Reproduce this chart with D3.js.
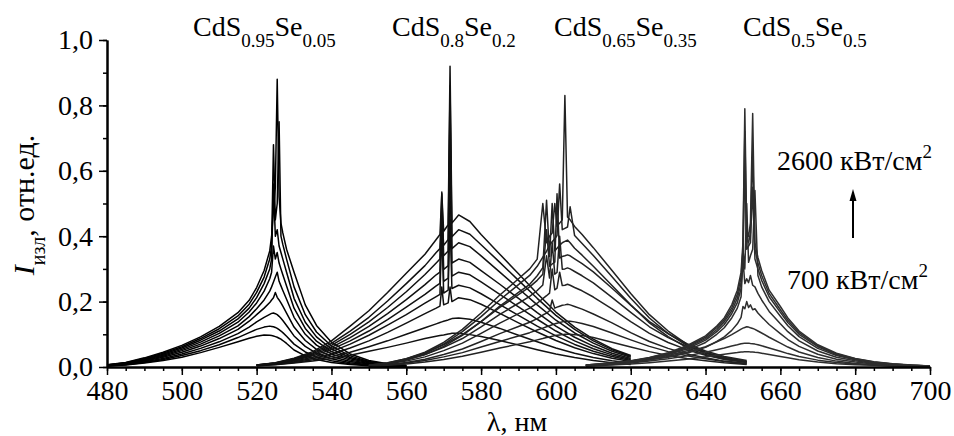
<!DOCTYPE html>
<html>
<head>
<meta charset="utf-8">
<script src="https://cdn.jsdelivr.net/npm/d3@7"></script>
<style>
  body { margin: 0; background: #fff; }
  text, tspan { font-family: "Liberation Serif" !important; }
</style>
</head>
<body>
<svg id="chart" width="954" height="436" font-family="Liberation Serif"></svg>
<script>
// wavelength grids (nm) and intensity curves, 700 -> 2600 kW/cm^2
const wl1 = [480, 485, 490, 495, 500, 505, 510, 515, 518, 520, 522, 523.5, 524, 524.5, 525, 525.5, 526, 526.5, 527, 528, 530, 533, 536, 540, 545, 550, 555, 560];
const g1 = [
  [0.003,0.006,0.012,0.02,0.03,0.044,0.06,0.077,0.088,0.094,0.098,0.097,0.096,0.095,0.093,0.091,0.088,0.085,0.081,0.072,0.052,0.034,0.023,0.014,0.008,0.004,0.002,0.001],
  [0.003,0.007,0.014,0.023,0.035,0.05,0.068,0.09,0.105,0.115,0.122,0.125,0.124,0.123,0.121,0.118,0.114,0.11,0.105,0.094,0.07,0.046,0.031,0.019,0.01,0.005,0.003,0.001],
  [0.004,0.008,0.016,0.026,0.04,0.057,0.077,0.102,0.122,0.138,0.152,0.161,0.164,0.165,0.163,0.16,0.155,0.149,0.142,0.127,0.095,0.063,0.042,0.025,0.013,0.007,0.004,0.002],
  [0.004,0.009,0.018,0.03,0.045,0.064,0.087,0.115,0.14,0.16,0.18,0.197,0.205,0.212,0.228,0.213,0.205,0.196,0.186,0.165,0.122,0.081,0.054,0.032,0.017,0.009,0.005,0.002],
  [0.005,0.01,0.02,0.033,0.05,0.07,0.095,0.126,0.154,0.178,0.205,0.232,0.245,0.26,0.275,0.29,0.262,0.248,0.234,0.207,0.152,0.1,0.067,0.04,0.021,0.011,0.006,0.003],
  [0.005,0.011,0.022,0.036,0.054,0.076,0.103,0.137,0.168,0.196,0.232,0.27,0.29,0.37,0.33,0.35,0.318,0.3,0.282,0.248,0.18,0.118,0.079,0.047,0.025,0.013,0.007,0.003],
  [0.006,0.012,0.024,0.039,0.058,0.082,0.11,0.147,0.18,0.212,0.255,0.3,0.33,0.56,0.4,0.42,0.37,0.35,0.33,0.29,0.21,0.137,0.092,0.055,0.029,0.015,0.008,0.004],
  [0.006,0.013,0.026,0.042,0.062,0.087,0.117,0.156,0.192,0.228,0.275,0.33,0.37,0.68,0.45,0.5,0.75,0.4,0.375,0.33,0.245,0.16,0.107,0.064,0.034,0.017,0.009,0.004],
  [0.007,0.014,0.028,0.045,0.066,0.092,0.124,0.166,0.204,0.243,0.295,0.355,0.4,0.48,0.55,0.88,0.52,0.44,0.41,0.36,0.29,0.19,0.127,0.076,0.04,0.02,0.01,0.005]
];

const wl2 = [520, 525, 530, 535, 540, 545, 550, 555, 560, 565, 568, 569, 569.5, 570, 571.2, 571.7, 572.2, 574, 577, 580, 585, 590, 595, 600, 605, 610, 615, 620];
const g2 = [
  [0.004,0.007,0.012,0.018,0.026,0.036,0.048,0.06,0.073,0.087,0.094,0.096,0.097,0.098,0.101,0.102,0.103,0.103,0.099,0.093,0.081,0.067,0.053,0.04,0.029,0.02,0.013,0.008],
  [0.004,0.008,0.014,0.022,0.032,0.045,0.062,0.08,0.1,0.12,0.132,0.136,0.138,0.14,0.144,0.146,0.148,0.15,0.146,0.137,0.118,0.097,0.077,0.058,0.042,0.029,0.019,0.012],
  [0.005,0.009,0.016,0.026,0.04,0.058,0.08,0.106,0.134,0.163,0.18,0.186,0.245,0.19,0.196,0.245,0.2,0.212,0.206,0.192,0.164,0.135,0.107,0.081,0.059,0.041,0.027,0.017],
  [0.005,0.01,0.018,0.03,0.047,0.07,0.097,0.128,0.16,0.195,0.215,0.222,0.42,0.226,0.235,0.45,0.24,0.25,0.242,0.224,0.191,0.158,0.125,0.095,0.069,0.048,0.032,0.02],
  [0.005,0.011,0.02,0.034,0.054,0.08,0.11,0.145,0.183,0.222,0.248,0.256,0.47,0.262,0.272,0.6,0.278,0.29,0.282,0.26,0.222,0.184,0.146,0.11,0.08,0.056,0.037,0.023],
  [0.005,0.011,0.022,0.037,0.06,0.09,0.124,0.163,0.206,0.252,0.282,0.29,0.5,0.298,0.31,0.72,0.318,0.33,0.32,0.295,0.253,0.21,0.166,0.125,0.091,0.064,0.042,0.026],
  [0.006,0.012,0.024,0.04,0.066,0.1,0.138,0.182,0.23,0.283,0.318,0.33,0.535,0.34,0.355,0.8,0.362,0.38,0.368,0.34,0.29,0.24,0.19,0.143,0.104,0.073,0.048,0.03],
  [0.006,0.012,0.025,0.043,0.072,0.11,0.152,0.202,0.255,0.31,0.35,0.362,0.47,0.372,0.39,0.86,0.398,0.42,0.406,0.374,0.32,0.265,0.21,0.158,0.115,0.08,0.053,0.033],
  [0.006,0.013,0.027,0.047,0.08,0.125,0.172,0.228,0.287,0.345,0.39,0.405,0.53,0.415,0.435,0.92,0.44,0.465,0.445,0.405,0.345,0.285,0.225,0.168,0.122,0.085,0.056,0.035]
];

const wl3 = [550, 555, 560, 565, 570, 575, 580, 585, 590, 593, 595, 596.5, 597.5, 598.3, 599, 599.7, 600.3, 601, 601.7, 602.4, 603.1, 603.8, 605, 607, 610, 615, 620, 625, 630, 635, 640, 645, 651];
const g3 = [
  [0.002,0.005,0.009,0.015,0.023,0.033,0.045,0.058,0.07,0.077,0.083,0.087,0.09,0.092,0.094,0.096,0.097,0.098,0.099,0.1,0.1,0.1,0.099,0.096,0.09,0.076,0.061,0.047,0.035,0.026,0.019,0.013,0.008],
  [0.003,0.006,0.012,0.02,0.031,0.044,0.061,0.078,0.095,0.105,0.113,0.119,0.123,0.126,0.129,0.132,0.134,0.136,0.138,0.14,0.14,0.14,0.138,0.133,0.124,0.104,0.083,0.063,0.047,0.034,0.025,0.017,0.01],
  [0.003,0.007,0.014,0.024,0.038,0.055,0.078,0.102,0.124,0.137,0.148,0.159,0.165,0.172,0.205,0.18,0.183,0.186,0.189,0.19,0.192,0.19,0.185,0.177,0.162,0.135,0.105,0.078,0.057,0.04,0.028,0.018,0.011],
  [0.004,0.01,0.018,0.031,0.05,0.073,0.103,0.134,0.163,0.18,0.195,0.209,0.218,0.226,0.3,0.236,0.241,0.29,0.249,0.25,0.253,0.25,0.243,0.233,0.214,0.178,0.139,0.103,0.075,0.053,0.036,0.024,0.015],
  [0.005,0.011,0.022,0.038,0.06,0.087,0.123,0.161,0.195,0.216,0.234,0.251,0.34,0.272,0.38,0.284,0.289,0.4,0.299,0.3,0.303,0.3,0.292,0.279,0.257,0.213,0.167,0.123,0.09,0.063,0.044,0.029,0.017],
  [0.005,0.013,0.025,0.043,0.068,0.099,0.139,0.182,0.221,0.245,0.265,0.284,0.42,0.308,0.315,0.321,0.53,0.333,0.338,0.34,0.343,0.34,0.331,0.316,0.291,0.241,0.189,0.139,0.102,0.071,0.049,0.032,0.02],
  [0.004,0.01,0.021,0.038,0.063,0.097,0.139,0.186,0.228,0.253,0.279,0.304,0.51,0.338,0.5,0.355,0.363,0.372,0.38,0.384,0.388,0.38,0.363,0.342,0.308,0.249,0.19,0.135,0.093,0.059,0.038,0.024,0.014],
  [0.004,0.011,0.024,0.042,0.07,0.108,0.154,0.205,0.252,0.28,0.308,0.336,0.354,0.373,0.383,0.392,0.402,0.56,0.42,0.424,0.428,0.49,0.402,0.378,0.341,0.276,0.21,0.15,0.102,0.066,0.042,0.026,0.015],
  [0.005,0.012,0.025,0.045,0.075,0.115,0.165,0.22,0.27,0.3,0.33,0.5,0.38,0.4,0.41,0.5,0.43,0.44,0.45,0.83,0.459,0.45,0.43,0.405,0.365,0.295,0.225,0.16,0.11,0.07,0.045,0.028,0.016]
];

const wl4 = [608, 615, 620, 625, 630, 635, 640, 643, 645, 647, 648.5, 649.5, 650, 650.5, 651, 651.5, 652, 652.6, 653.2, 654, 655, 657, 660, 662, 665, 670, 675, 680, 685, 690, 695, 700];
const g4 = [
  [0.003,0.006,0.009,0.013,0.018,0.024,0.031,0.036,0.039,0.042,0.044,0.046,0.046,0.047,0.047,0.047,0.046,0.046,0.045,0.044,0.042,0.038,0.032,0.028,0.022,0.015,0.01,0.007,0.005,0.003,0.002,0.001],
  [0.004,0.008,0.012,0.018,0.025,0.034,0.045,0.053,0.058,0.064,0.068,0.071,0.072,0.073,0.073,0.073,0.072,0.071,0.07,0.068,0.065,0.058,0.048,0.041,0.032,0.021,0.014,0.009,0.006,0.004,0.003,0.002],
  [0.004,0.009,0.014,0.022,0.032,0.045,0.062,0.077,0.087,0.099,0.109,0.116,0.119,0.121,0.123,0.122,0.12,0.118,0.115,0.11,0.104,0.091,0.073,0.061,0.046,0.029,0.018,0.011,0.007,0.005,0.003,0.002],
  [0.005,0.009,0.014,0.022,0.03,0.042,0.06,0.078,0.092,0.112,0.132,0.152,0.185,0.178,0.2,0.182,0.19,0.175,0.178,0.165,0.153,0.13,0.102,0.084,0.063,0.039,0.024,0.015,0.009,0.006,0.004,0.002],
  [0.005,0.01,0.016,0.024,0.035,0.05,0.075,0.1,0.12,0.15,0.18,0.215,0.33,0.255,0.27,0.258,0.28,0.25,0.245,0.225,0.205,0.17,0.132,0.108,0.08,0.049,0.03,0.019,0.011,0.007,0.004,0.002],
  [0.005,0.011,0.017,0.026,0.038,0.055,0.082,0.108,0.13,0.163,0.197,0.24,0.36,0.3,0.5,0.32,0.34,0.36,0.54,0.28,0.245,0.2,0.155,0.126,0.093,0.057,0.035,0.022,0.013,0.008,0.005,0.002],
  [0.006,0.011,0.018,0.027,0.04,0.059,0.087,0.114,0.138,0.172,0.21,0.258,0.33,0.63,0.36,0.37,0.38,0.55,0.33,0.3,0.265,0.215,0.167,0.136,0.1,0.062,0.038,0.024,0.014,0.009,0.005,0.003],
  [0.006,0.012,0.018,0.028,0.042,0.062,0.091,0.12,0.144,0.181,0.222,0.275,0.36,0.72,0.39,0.38,0.41,0.66,0.36,0.318,0.28,0.225,0.175,0.143,0.105,0.065,0.04,0.025,0.015,0.009,0.005,0.003],
  [0.006,0.012,0.019,0.029,0.044,0.065,0.095,0.125,0.15,0.19,0.235,0.29,0.38,0.79,0.42,0.4,0.44,0.775,0.38,0.335,0.295,0.235,0.185,0.15,0.11,0.068,0.042,0.026,0.016,0.01,0.006,0.003]
];

const compS = ["0.95", "0.8", "0.65", "0.5"];
const compSe = ["0.05", "0.2", "0.35", "0.5"];
const xTicks = [480, 500, 520, 540, 560, 580, 600, 620, 640, 660, 680, 700];
const yTicks = [0, 0.2, 0.4, 0.6, 0.8, 1.0];
const powerLabels = ["2600 кВт/см", "700 кВт/см"];

const groups = [
  { wl: wl1, curves: g1 },
  { wl: wl2, curves: g2 },
  { wl: wl3, curves: g3 },
  { wl: wl4, curves: g4 }
];
const groupColors = ["#000", "#111", "#222", "#2e2e2e"];
const titleX = [193, 392, 554, 743];
const FONT = "Liberation Serif";

const svg = d3.select("#chart");

const x = d3.scaleLinear().domain([480, 700]).range([107, 930]);
const y = d3.scaleLinear().domain([0, 1]).range([367, 40]);

// curves
groups.forEach((grp, gi) => {
    const line = d3.line()
        .x((d, i) => x(grp.wl[i]))
        .y(d => y(d));
    svg.append("g")
        .selectAll("path")
        .data(grp.curves)
        .join("path")
        .attr("fill", "none")
        .attr("stroke", groupColors[gi])
        .attr("stroke-width", 1.5)
        .attr("stroke-linejoin", "round")
        .attr("d", line);
});

const fmt = d => d3.format(".1f")(d).replace(".", ",");

// axes: minor ticks first, then major with labels
svg.append("g")
    .attr("transform", "translate(0,367)")
    .call(d3.axisBottom(x).tickValues(d3.range(480, 701, 5)).tickSize(4).tickSizeOuter(0).tickFormat(""));
svg.append("g")
    .attr("transform", "translate(0,367)")
    .call(d3.axisBottom(x).tickValues(xTicks).tickSize(8).tickPadding(5).tickSizeOuter(0).tickFormat(d3.format("d")));

svg.append("g")
    .attr("transform", "translate(107,0)")
    .call(d3.axisLeft(y).tickValues(d3.range(0, 1.05, 0.1)).tickSize(4).tickSizeOuter(0).tickFormat(""));
svg.append("g")
    .attr("transform", "translate(107,0)")
    .call(d3.axisLeft(y).tickValues(yTicks).tickSize(8).tickPadding(6).tickSizeOuter(0).tickFormat(fmt));

svg.selectAll("g").attr("font-family", FONT).attr("font-size", 28);
svg.selectAll(".domain").attr("stroke", "#000").attr("stroke-width", 2);
svg.selectAll(".tick line").attr("stroke", "#000").attr("stroke-width", 1.5);
svg.selectAll(".tick text")
    .attr("font-family", FONT)
    .attr("font-size", 28)
    .attr("fill", "#000");

// composition titles
compS.forEach((s, i) => {
    const t = svg.append("text")
        .attr("x", titleX[i])
        .attr("y", 36)
        .attr("font-family", FONT)
        .attr("font-size", 28);
    t.append("tspan").text("CdS");
    t.append("tspan").attr("dy", 11).attr("font-size", 19).text(s);
    t.append("tspan").attr("dy", -11).text("Se");
    t.append("tspan").attr("dy", 11).attr("font-size", 19).text(compSe[i]);
});

// y axis title
const yt = svg.append("text")
    .attr("transform", "translate(34,205) rotate(-90)")
    .attr("text-anchor", "middle")
    .attr("font-family", FONT)
    .attr("font-size", 30);
yt.append("tspan").attr("font-style", "italic").text("I");
yt.append("tspan").attr("dy", 11).attr("font-size", 20).text("изл");
yt.append("tspan").attr("dy", -11).text(", отн.ед.");

// x axis title
svg.append("text")
    .attr("x", 517)
    .attr("y", 431)
    .attr("text-anchor", "middle")
    .attr("font-family", FONT)
    .attr("font-size", 28)
    .text("λ, нм");

// pump intensity labels and arrow
[[777, 170], [787, 289]].forEach((p, i) => {
    const t = svg.append("text")
        .attr("x", p[0])
        .attr("y", p[1])
        .attr("font-family", FONT)
        .attr("font-size", 28);
    t.append("tspan").text(powerLabels[i]);
    t.append("tspan").attr("dy", -12).attr("font-size", 19).text("2");
});

svg.append("line")
    .attr("x1", 853).attr("x2", 853)
    .attr("y1", 238).attr("y2", 198)
    .attr("stroke", "#000")
    .attr("stroke-width", 2);
svg.append("path")
    .attr("d", "M853,189 L849.5,201 L856.5,201 Z")
    .attr("fill", "#000");
</script>
</body>
</html>
